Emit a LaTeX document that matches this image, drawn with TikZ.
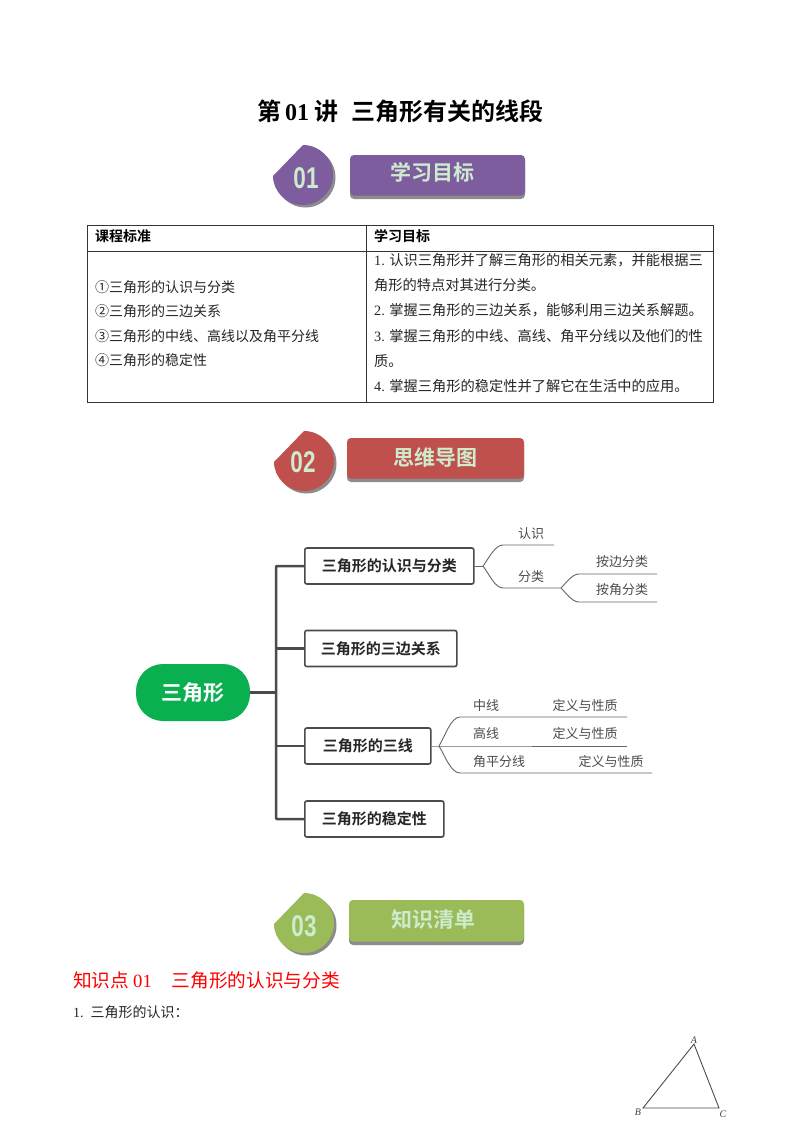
\documentclass[tikz,border=0pt]{standalone}
\usepackage{fontspec}
\setmainfont{Liberation Serif}
\newfontfamily\cjk{Noto Sans CJK SC}
\newfontfamily\cjkb{Noto Sans CJK SC Bold}
\newfontfamily\numfont{Liberation Sans}
\definecolor{purp}{RGB}{125,93,158}
\definecolor{redb}{RGB}{192,80,77}
\definecolor{grn}{RGB}{155,187,89}
\definecolor{mint}{RGB}{205,235,205}
\definecolor{rootg}{RGB}{10,175,80}
\definecolor{dk}{RGB}{75,75,75}
\tikzset{
  x=1pt,y=-1pt,
  body/.style={font=\fontsize{14}{14}\selectfont,anchor=west,inner sep=0pt,text=black!85},
  bodyr/.style={font=\fontsize{14.25}{14.25}\selectfont,anchor=west,inner sep=0pt,text=black!85},
  hdr/.style={font=\fontsize{14}{14}\selectfont\cjkb,anchor=west,inner sep=0pt},
  mbox/.style={draw=dk,line width=1.6pt,rounded corners=2pt,anchor=west,inner sep=0pt,minimum height=36pt,font=\fontsize{15}{15}\selectfont\cjkb,text=black!85,align=center},
  trunk/.style={draw=dk,line width=2.5pt},
  thin/.style={draw=black!60,line width=0.9pt},
  leaf/.style={font=\fontsize{13}{13}\selectfont\cjk,text=black!70,inner sep=0pt},
  bannertxt/.style={font=\fontsize{21}{21}\selectfont\cjkb,text=mint,inner sep=0pt},
  numtxt/.style={font=\fontsize{30}{30}\selectfont\numfont\bfseries,text=mint,inner sep=0pt,xscale=0.75,transform shape}
}
\newcommand{\badge}[3]{% cx cy fillspec
  \fill[#3] (#1,#2-30) .. controls (#1+16.6,#2-30) and (#1+30,#2-16.6) .. (#1+30,#2)
     .. controls (#1+30,#2+16.6) and (#1+16.6,#2+30) .. (#1,#2+30)
     .. controls (#1-16.6,#2+30) and (#1-30,#2+16.6) .. (#1-30,#2+1) -- cycle;}
\begin{document}
\begin{tikzpicture}
\useasboundingbox (0,0) rectangle (800,1132);
\fill[white] (0,0) rectangle (800,1132);
\node[inner sep=0pt,font=\fontsize{24}{24}\selectfont\cjkb] (title) at (400.5,111) {第\hspace{4pt}{\bfseries\fontspec{Liberation Serif}01}\hspace{5pt}讲\hspace{14pt}三角形有关的线段};

% banner 1
\badge{305.5}{177.5}{black!45}
\badge{303}{175}{purp}
\fill[black!45,rounded corners=4pt] (350,158) rectangle (525,199);
\fill[purp,rounded corners=4pt] (350,155) rectangle (525,195.5);
\node[numtxt] (n01) at (306,178) {01};
\node[bannertxt] (t01) at (432,172) {学习目标};
% banner 2
\badge{306.5}{463.5}{black!45}
\badge{304}{461}{redb}
\fill[black!45,rounded corners=4pt] (347,441) rectangle (524,482);
\fill[redb,rounded corners=4pt] (347,438) rectangle (524,478.5);
\node[numtxt] (n02) at (303,462) {02};
\node[bannertxt] (t02) at (435,457) {思维导图};
% banner 3
\badge{306.5}{925.5}{black!45}
\badge{304}{923}{grn}
\fill[black!45,rounded corners=4pt] (349,903) rectangle (524,945);
\fill[grn,rounded corners=4pt] (349,900) rectangle (524,941.5);
\node[numtxt] (n03) at (304,926) {03};
\node[bannertxt] (t03) at (433,920) {知识清单};

% table
\draw[black!80,line width=0.8pt] (87,225.5) rectangle (713,402);
\draw[black!80,line width=0.8pt] (87,251) -- (713,251) (366,225.5) -- (366,402);
\node[hdr] (h1) at (95,236) {课程标准};
\node[hdr] (h2) at (374,236) {学习目标};
\node[body] (a1) at (95,287) {\cjk ①三角形的认识与分类};
\node[body] (a2) at (95,311) {\cjk ②三角形的三边关系};
\node[body] (a3) at (95,336) {\cjk ③三角形的中线、高线以及角平分线};
\node[body] (a4) at (95,360) {\cjk ④三角形的稳定性};
\node[bodyr] (b1) at (374,260) {1.\hspace{4.5pt}{\cjk 认识三角形并了解三角形的相关元素，并能根据三}};
\node[bodyr] (b2) at (374,285) {\cjk 角形的特点对其进行分类。};
\node[bodyr] (b3) at (374,310) {2.\hspace{4.5pt}{\cjk 掌握三角形的三边关系，能够利用三边关系解题。}};
\node[bodyr] (b4) at (374,336) {3.\hspace{4.5pt}{\cjk 掌握三角形的中线、高线、角平分线以及他们的性}};
\node[bodyr] (b5) at (374,361) {\cjk 质。};
\node[bodyr] (b6) at (374,386) {4.\hspace{4.5pt}{\cjk 掌握三角形的稳定性并了解它在生活中的应用。}};

% mind map
\node[fill=rootg,rounded corners=27pt,minimum width=114pt,minimum height=57pt,inner sep=0pt,text=white,font=\fontsize{21}{21}\selectfont\cjkb] (root) at (193,692.5) {三角形};
\node[mbox,minimum width=169pt] (m1) at (304,566) {三角形的认识与分类};
\node[mbox,minimum width=152pt] (m2) at (304,648.5) {三角形的三边关系};
\node[mbox,minimum width=126pt] (m3) at (304,746) {三角形的三线};
\node[mbox,minimum width=139pt] (m4) at (304,819) {三角形的稳定性};
\coordinate (j) at (276,692.5);
\draw[trunk] (root.east) -- (j);
\draw[trunk,rounded corners=1pt] (m1.west) -- (276,566) -- (276,819) -- (m4.west);
\draw[trunk] (276,648.5) -- (m2.west);
\draw[trunk] (276,746) -- (m3.west);

% leaves
\coordinate (f1) at (483,566);
\coordinate (f2) at (561,588);
\coordinate (f3) at (439,746);
\draw[thin] (m1.east) -- (f1);
\draw[thin] (f1) .. controls (489,558) and (495,545) .. (503,545) -- (554,545);
\draw[thin] (f1) .. controls (489,574) and (495,588) .. (503,588) -- (f2);
\node[leaf] (n1) at (531,534) {认识};
\node[leaf] (n2) at (531,577) {分类};
\draw[thin] (f2) .. controls (566,583) and (572,574) .. (579,574) -- (657,574);
\draw[thin] (f2) .. controls (566,593) and (572,602) .. (579,602) -- (657,602);
\node[leaf] (n3) at (622,562) {按边分类};
\node[leaf] (n4) at (622,590) {按角分类};
\draw[thin] (m3.east) -- (f3) -- (627,746);
\draw[thin] (f3) .. controls (445,736) and (451,717) .. (460,717) -- (627,717);
\draw[thin] (f3) .. controls (445,756) and (451,773) .. (460,773) -- (652,773);
\node[leaf] (t1) at (486,706) {中线};
\node[leaf] (t2) at (486,734) {高线};
\node[leaf] (t3) at (499,762) {角平分线};
\node[leaf] (d1) at (585,706) {定义与性质};
\node[leaf] (d2) at (585,734) {定义与性质};
\node[leaf] (d3) at (611,762) {定义与性质};

% section
\node[inner sep=0pt,anchor=west,text=red,font=\fontsize{18.67}{18.67}\selectfont\cjk] (sec) at (73,980) {知识点\hspace{4pt}{\fontspec{Liberation Serif}01}\hspace{20pt}三角形的认识与分类};
\node[body] (s1) at (73,1012) {1.\hspace{7pt}{\cjk 三角形的认识：}};

% triangle
\coordinate (A) at (694,1044);
\coordinate (B) at (643,1108);
\coordinate (C) at (719,1108);
\draw[black!70,line width=0.9pt] (A) -- (B) -- (C) -- cycle;
\node[inner sep=0pt,font=\fontsize{10}{10}\selectfont\itshape,text=black!75] (la) at (694,1040) {A};
\node[inner sep=0pt,font=\fontsize{10}{10}\selectfont\itshape,text=black!75] (lb) at (638,1112) {B};
\node[inner sep=0pt,font=\fontsize{10}{10}\selectfont\itshape,text=black!75] (lc) at (723,1114) {C};
\end{tikzpicture}
\end{document}
